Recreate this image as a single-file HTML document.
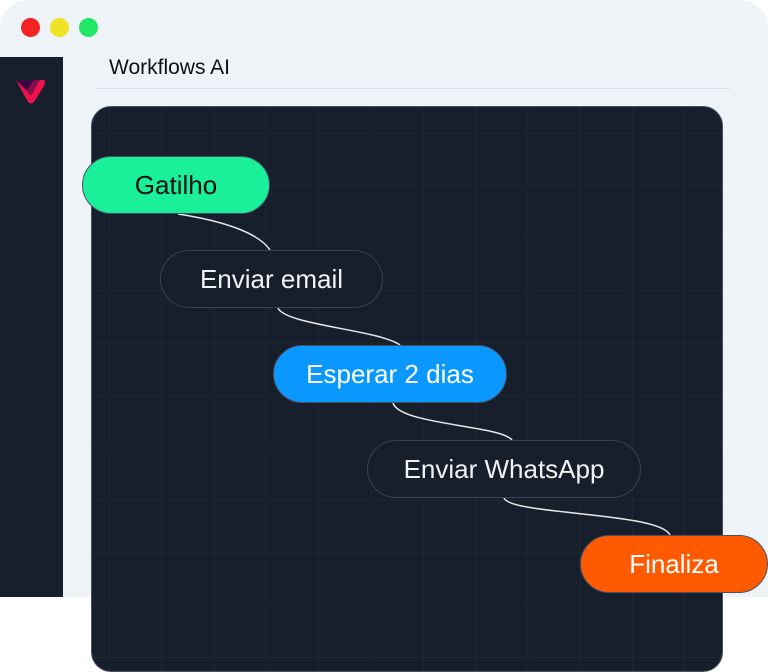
<!DOCTYPE html>
<html><head><meta charset="utf-8"><style>
*{margin:0;padding:0;box-sizing:border-box}
body{width:768px;height:672px;background:#fff;position:relative;overflow:hidden;font-family:"Liberation Sans",sans-serif}
.win{position:absolute;left:0;top:0;width:768px;height:597px;background:#eef3f8;border-radius:28px 28px 0 28px}
.dot{position:absolute;top:18px;width:19px;height:19px;border-radius:50%}
.side{position:absolute;left:0;top:57px;width:63px;height:540px;background:#171f2d}
.title{position:absolute;left:109px;top:56px;font-size:21px;color:#111}
.hr{position:absolute;left:95px;top:88px;width:635px;height:1px;background:#dde2e8}
.canvas{position:absolute;left:91px;top:106px;width:632px;height:566px;background:#171f2d;border-radius:20px;border:1px solid #4a5060;overflow:hidden;
background-image:linear-gradient(#20262d 1px,transparent 1px),linear-gradient(90deg,#20262d 1px,transparent 1px);background-size:52.3px 52.4px;background-position:17px 26px}
.node{position:absolute;height:58px;border-radius:29px;display:flex;align-items:center;justify-content:center;font-size:26px;border:1px solid #4a5060}
</style></head><body>
<div class="win"></div>
<div class="dot" style="left:21px;background:#f42222"></div>
<div class="dot" style="left:50px;background:#f0e324"></div>
<div class="dot" style="left:79px;background:#20e866"></div>
<div class="side"></div>
<svg style="position:absolute;left:14px;top:78px" width="32" height="28" viewBox="0 0 32 28"><path d="M2 2 L30 2 Q32 4 30 8 L20 24 Q17 27 14 24 Z" fill="#f0104e"/><path d="M2 2 L26 2 L17 18 Z" fill="#8a0e4a"/><path d="M2 2 L20 2 L13 12 Z" fill="#3a0840"/></svg>
<div class="title">Workflows AI</div>
<div class="hr"></div>
<div class="canvas"></div>
<svg style="position:absolute;left:0;top:0" width="768" height="672" fill="none" stroke="#e6e8ec" stroke-width="1.5">
<path d="M178 214 C230 222 260 235 270 250"/>
<path d="M278 308 C285 325 380 330 400 345"/>
<path d="M393 403 C400 425 500 425 512 440"/>
<path d="M504 498 C510 515 660 512 670 535"/>
</svg>
<div class="node" style="left:82px;top:156px;width:188px;background:#1af09a;color:#111">Gatilho</div>
<div class="node" style="left:160px;top:250px;width:223px;background:#171f2d;color:#f0f2f5;border-color:#3a4252">Enviar email</div>
<div class="node" style="left:273px;top:345px;width:234px;background:#0a98ff;color:#fff">Esperar 2 dias</div>
<div class="node" style="left:367px;top:440px;width:274px;background:#171f2d;color:#f0f2f5;border-color:#3a4252">Enviar WhatsApp</div>
<div class="node" style="left:580px;top:535px;width:188px;background:#ff5a00;color:#fff">Finaliza</div>
</body></html>
